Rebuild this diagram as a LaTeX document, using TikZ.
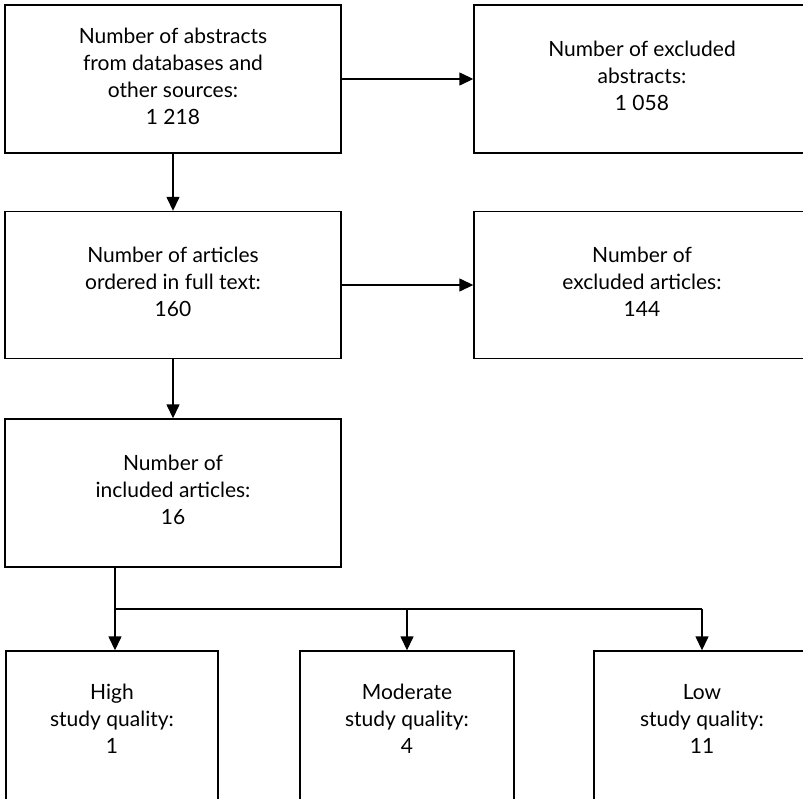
\documentclass[tikz,border=0pt]{standalone}
\usepackage{fontspec}
\setmainfont{Lato}
\usetikzlibrary{arrows.meta}
\begin{document}
\begin{tikzpicture}[x=1pt,y=-1pt,
  box/.style={draw=black, line width=1.4pt, rectangle, inner sep=0pt},
  txt/.style={align=center, font=\fontsize{21}{27}\selectfont, text=black},
  arr/.style={line width=1.4pt, -{Triangle[width=13pt,length=14pt]}},
  ln/.style={line width=1.4pt}]
\useasboundingbox (0,0) rectangle (803,798);
\clip (0,0) rectangle (803,798);
% boxes
\node[box, minimum width=336, minimum height=148] (a1) at (173,79) {};
\node[txt] (t1) at (173,76) {Number of abstracts\\from databases and\\other sources:\\1 218};
\node[box, minimum width=336, minimum height=148] (b1) at (642,79) {};
\node[txt] (t2) at (642,76) {Number of excluded\\abstracts:\\1 058};
\node[box, minimum width=336, minimum height=147] (a2) at (173,285) {};
\node[txt] (t3) at (173,282) {Number of articles\\ordered in full text:\\160};
\node[box, minimum width=336, minimum height=147] (b2) at (642,285) {};
\node[txt] (t4) at (642,282) {Number of\\excluded articles:\\144};
\node[box, minimum width=336, minimum height=148] (a3) at (173,493) {};
\node[txt] (t5) at (173,490) {Number of\\included articles:\\16};
\node[box, minimum width=212, minimum height=150] (c1) at (112,726) {};
\node[txt] (t6) at (112,719) {High\\study quality:\\1};
\node[box, minimum width=214, minimum height=150] (c2) at (407,726) {};
\node[txt] (t7) at (407,719) {Moderate\\study quality:\\4};
\node[box, minimum width=216, minimum height=150] (c3) at (702,726) {};
\node[txt] (t8) at (702,719) {Low\\study quality:\\11};
% connectors
\draw[arr] (a1.east) -- (b1.west);
\draw[arr] (a1.south) -- (a2.north);
\draw[arr] (a2.east) -- (b2.west);
\draw[arr] (a2.south) -- (a3.north);
\coordinate (br) at (115,609);
\draw[arr] (br |- a3.south) -- (br |- c1.north);
\draw[ln] (br) -- (br -| c3.north);
\draw[arr] (br -| c2.north) -- (c2.north);
\draw[arr] (br -| c3.north) -- (c3.north);
\end{tikzpicture}
\end{document}
